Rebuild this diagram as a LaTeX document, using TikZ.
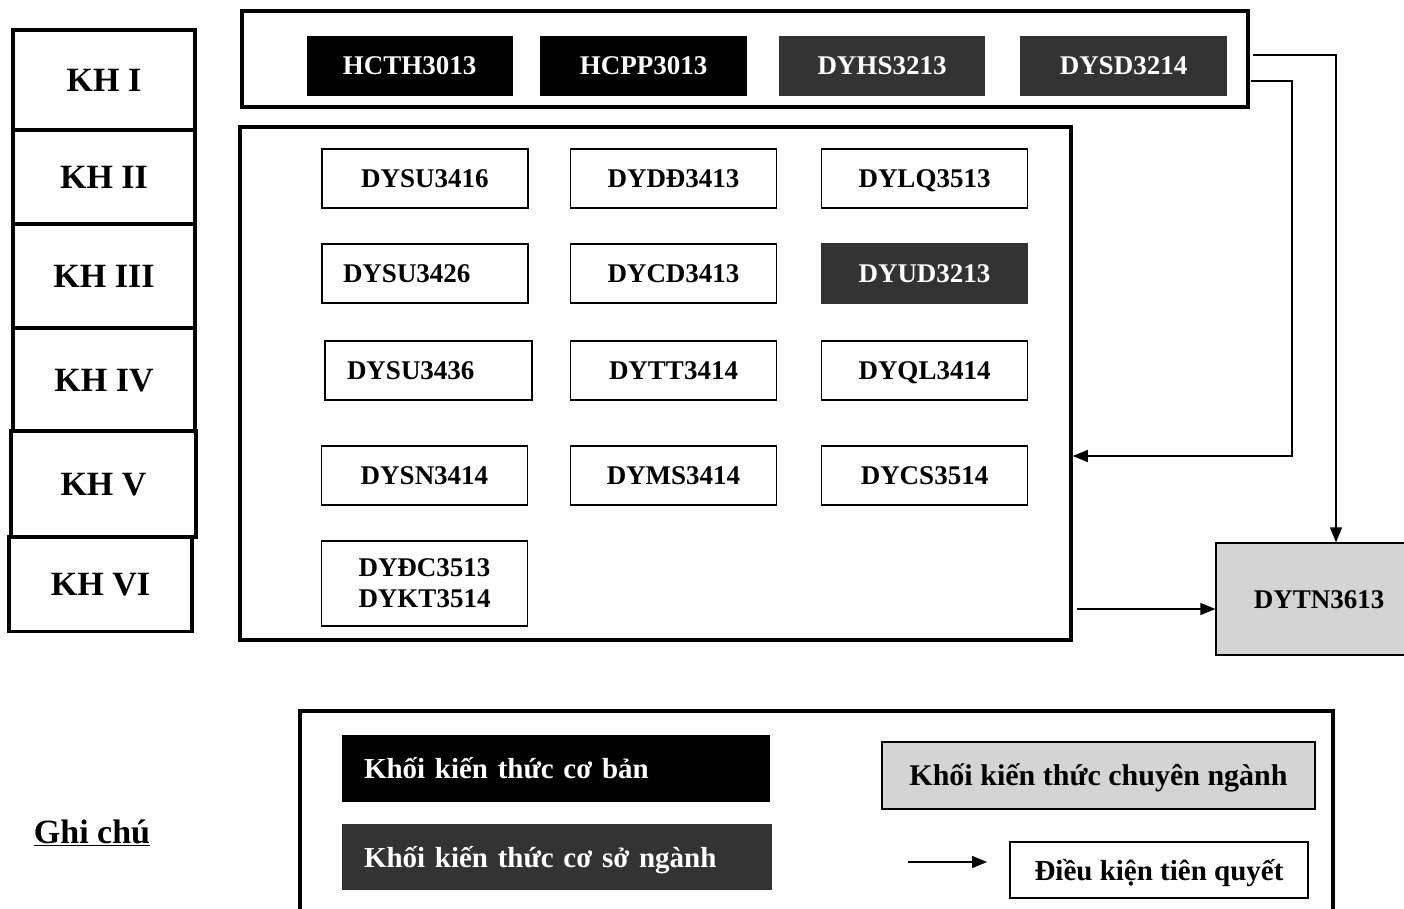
\documentclass[tikz,border=0pt]{standalone}
\usepackage{fontspec}
\setmainfont{Liberation Serif}
\usetikzlibrary{arrows.meta,calc}
\definecolor{darkfill}{gray}{0.2}
\definecolor{lightfill}{gray}{0.83}
\begin{document}
\begin{tikzpicture}[x=1pt,y=-1pt,
  every node/.style={font=\bfseries\fontsize{27}{31}\selectfont},
  khbox/.style={draw, line width=3.5pt, minimum width=182pt, inner sep=0pt, text height=23pt, text depth=0pt, font=\bfseries\fontsize{34}{38}\selectfont},
  frame/.style={draw, line width=3.5pt, inner sep=0pt},
  oneline/.style={text height=18pt, text depth=0pt},
  course/.style={draw, line width=1.2pt, minimum width=206pt, minimum height=59pt, inner sep=0pt},
  blackc/.style={oneline, fill=black, text=white, minimum width=206pt, minimum height=60pt, inner sep=0pt},
  darkc/.style={oneline, fill=darkfill, text=white, minimum width=206pt, minimum height=60pt, inner sep=0pt},
  conn/.style={line width=1.3pt, -{Triangle[length=15pt,width=12pt]}},
  legtext/.style={text height=20pt, text depth=0pt, font=\bfseries\fontsize{29}{33}\selectfont}
]
\clip (0,0) rectangle (1404,909);
\fill[white] (0,0) rectangle (1404,909);

% semester column
\node[khbox, minimum height=100pt] (kh1) at (104,80) {KH I};
\node[khbox, minimum height=94pt] (kh2) at (104,177) {KH II};
\node[khbox, minimum height=104pt] (kh3) at (104,276) {KH III};
\node[khbox, minimum height=103pt] (kh4) at (104,379.5) {KH IV};
\node[khbox, minimum width=185pt, minimum height=106pt] (kh5) at (103.5,484) {KH V};
\node[khbox, minimum width=183pt, minimum height=95pt] (kh6) at (100.5,584) {KH VI};

% top frame
\node[frame, minimum width=1006pt, minimum height=96pt] (top) at (745,59) {};
\node[blackc] (hcth) at (409.5,66) {HCTH3013};
\node[blackc, minimum width=207pt] (hcpp) at (643.5,66) {HCPP3013};
\node[darkc] (dyhs) at (882,66) {DYHS3213};
\node[darkc, minimum width=207pt] (dysd) at (1123.5,66) {DYSD3214};

% middle frame
\node[frame, minimum width=831pt, minimum height=513pt] (mid) at (655.5,383.5) {};

\node[course, oneline] (su1) at (425,178.5) {DYSU3416};
\node[course, oneline] (dd) at (673.5,178.5) {DYDĐ3413};
\node[course, oneline] (lq) at (924.5,178.5) {DYLQ3513};

\node[course, oneline, inner xsep=21pt, text width=164pt, align=left] (su2) at (425,273.5) {DYSU3426};
\node[course, oneline] (cd) at (673.5,273.5) {DYCD3413};
\node[course, oneline, fill=darkfill, text=white, draw=darkfill] (ud) at (924.5,273.5) {DYUD3213};

\node[course, oneline, inner xsep=22pt, text width=163pt, align=left] (su3) at (428.5,370.5) {DYSU3436};
\node[course, oneline] (tt) at (673.5,370.5) {DYTT3414};
\node[course, oneline] (ql) at (924.5,370.5) {DYQL3414};

\node[course, oneline] (sn) at (424.5,475.5) {DYSN3414};
\node[course, oneline] (ms) at (673.5,475.5) {DYMS3414};
\node[course, oneline] (cs) at (924.5,475.5) {DYCS3514};

\node[course, minimum height=85pt, align=center] (dc) at (424.5,583.5) {DYĐC3513\\DYKT3514};

% final course
\node[oneline, draw, line width=1.3pt, fill=lightfill, minimum width=206pt, minimum height=112pt, inner sep=0pt] (tn) at (1319,599) {DYTN3613};

% connectors
\coordinate (a1) at (1253,55);
\coordinate (a2) at (1336,55);
\draw[conn] (a1) -- (a2) -- (a2 |- tn.north);
\coordinate (b1) at (1251,81);
\coordinate (b2) at (1292,81);
\coordinate (b3) at (1292,456);
\draw[conn] (b1) -- (b2) -- (b3) -- (b3 -| mid.east);
\coordinate (c1) at (1077,609);
\draw[conn] (c1) -- (c1 -| tn.west);

% legend
\node[font=\bfseries\fontsize{34}{38}\selectfont] (ghichu) at (92,833) {\underline{Ghi chú}};
\node[frame, minimum width=1033pt, minimum height=220pt] (leg) at (816.5,821) {};
\node[legtext, fill=black, text=white, minimum height=67pt, inner xsep=22pt, text width=384pt, align=left] (lb) at (556,768.5) {Khối kiến thức cơ bản};
\node[legtext, fill=darkfill, text=white, minimum height=66pt, inner xsep=22pt, text width=386pt, align=left] (lc) at (557,857) {Khối kiến thức cơ sở ngành};
\node[legtext, draw, line width=1.2pt, fill=lightfill, minimum width=433pt, minimum height=67pt, inner sep=0pt, font=\bfseries\fontsize{30}{34}\selectfont] (lcn) at (1098.5,775.5) {Khối kiến thức chuyên ngành};
\node[legtext, draw, line width=1.2pt, minimum width=298pt, minimum height=56pt, inner sep=0pt] (ldk) at (1159,870) {Điều kiện tiên quyết};
\coordinate (d1) at (908,862);
\coordinate (d2) at (987,862);
\draw[conn] (d1) -- (d2);
\end{tikzpicture}
\end{document}
